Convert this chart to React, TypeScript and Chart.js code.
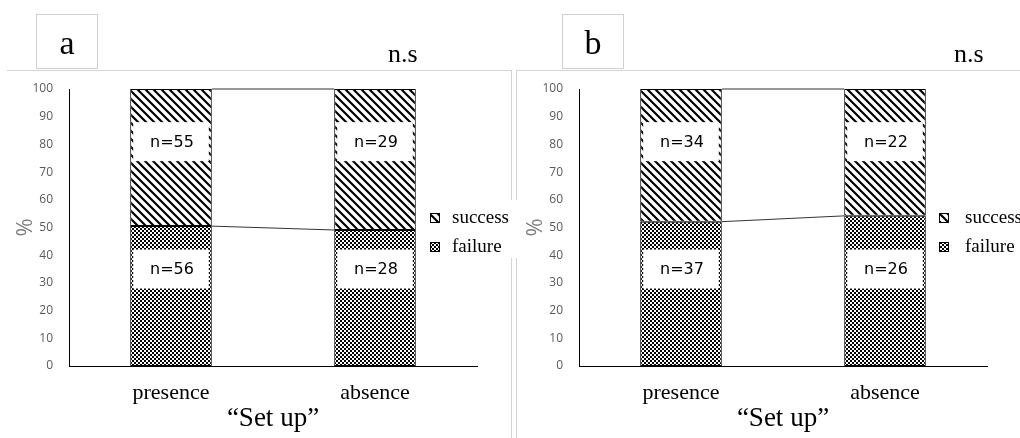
import React, { useEffect, useRef } from "react";
import { Chart, registerables } from "chart.js";

Chart.register(...registerables);

const categories = ["presence", "absence"];
const seriesNames = ["success", "failure"];
const xTitle = "\u201cSet up\u201d";
const yTitle = "%";

const failureA = [50.5, 49.1];
const successA = [49.5, 50.9];
const nFailureA = ["n=56", "n=28"];
const nSuccessA = ["n=55", "n=29"];

const failureB = [52.1, 54.2];
const successB = [47.9, 45.8];
const nFailureB = ["n=37", "n=26"];
const nSuccessB = ["n=34", "n=22"];

function makeHatch(): CanvasPattern {
  const c = document.createElement("canvas");
  c.width = 8;
  c.height = 8;
  const g = c.getContext("2d")!;
  g.fillStyle = "#fff";
  g.fillRect(0, 0, 8, 8);
  g.strokeStyle = "#000";
  g.lineWidth = 2.2;
  g.beginPath();
  g.moveTo(-2, -2);
  g.lineTo(10, 10);
  g.moveTo(-6, 2);
  g.lineTo(6, 14);
  g.moveTo(2, -6);
  g.lineTo(14, 6);
  g.stroke();
  return g.createPattern(c, "repeat")!;
}

function makeChecker(): CanvasPattern {
  const c = document.createElement("canvas");
  c.width = 4;
  c.height = 4;
  const g = c.getContext("2d")!;
  g.fillStyle = "#fff";
  g.fillRect(0, 0, 4, 4);
  g.fillStyle = "#000";
  g.fillRect(0, 0, 2, 2);
  g.fillRect(2, 2, 2, 2);
  return g.createPattern(c, "repeat")!;
}

type PanelProps = {
  letter: string;
  failure: number[];
  success: number[];
  nFailure: string[];
  nSuccess: string[];
  left: number;
  width: number;
  boxX: number;
  nsX: number;
  frameX: number;
  frameStart: number;
  legendX: number;
  legendTextX: number;
};

function Panel(p: PanelProps) {
  const ref = useRef<HTMLCanvasElement | null>(null);

  useEffect(() => {
    const canvas = ref.current!;
    const hatch = makeHatch();
    const checker = makeChecker();

    const decor = {
      id: "decor",
      afterDatasetsDraw(chart: any) {
        const ctx: CanvasRenderingContext2D = chart.ctx;
        const ys = chart.scales.y;
        const m0 = chart.getDatasetMeta(0);
        const m1 = chart.getDatasetMeta(1);
        ctx.save();
        ctx.strokeStyle = "#333";
        ctx.lineWidth = 1;
        for (let i = 0; i < categories.length - 1; i++) {
          const a = m0.data[i];
          const b = m0.data[i + 1];
          const x1 = a.x + a.width / 2;
          const x2 = b.x - b.width / 2;
          const levels = [
            [p.failure[i], p.failure[i + 1]],
            [p.failure[i] + p.success[i], p.failure[i + 1] + p.success[i + 1]],
          ];
          for (const [v1, v2] of levels) {
            ctx.beginPath();
            ctx.moveTo(x1, ys.getPixelForValue(v1));
            ctx.lineTo(x2, ys.getPixelForValue(v2));
            ctx.stroke();
          }
        }
        const sets: [any, string[], number][] = [
          [m0, p.nFailure, 35],
          [m1, p.nSuccess, 81],
        ];
        ctx.font = "16px 'DejaVu Sans'";
        ctx.textAlign = "center";
        ctx.textBaseline = "middle";
        for (const [meta, labels, pos] of sets) {
          meta.data.forEach((el: any, i: number) => {
            const cy = ys.getPixelForValue(pos);
            const x0 = el.x - el.width / 2 + 3;
            const w = el.width - 6;
            ctx.fillStyle = "#fff";
            ctx.fillRect(x0, cy - 19.5, w, 39);
            ctx.fillStyle = "#000";
            ctx.fillText(labels[i], el.x + 1, cy + 1);
          });
        }
        ctx.restore();
      },
      afterDraw(chart: any) {
        const ctx: CanvasRenderingContext2D = chart.ctx;
        ctx.save();
        ctx.strokeStyle = "#d4d4d4";
        ctx.lineWidth = 1;
        ctx.beginPath();
        ctx.moveTo(p.frameStart, 70.5);
        ctx.lineTo(p.width, 70.5);
        ctx.moveTo(p.frameX, 70);
        ctx.lineTo(p.frameX, 200);
        ctx.moveTo(p.frameX, 258);
        ctx.lineTo(p.frameX, 438);
        ctx.stroke();
        ctx.strokeStyle = "#d0d0d0";
        ctx.strokeRect(p.boxX + 0.5, 14.5, 61, 54);
        ctx.fillStyle = "#000";
        ctx.font = "34px 'Liberation Serif'";
        ctx.textAlign = "center";
        ctx.textBaseline = "alphabetic";
        ctx.fillText(p.letter, p.boxX + 31, 54);
        ctx.font = "26px 'Liberation Serif'";
        ctx.textAlign = "left";
        ctx.fillText("n.s", p.nsX, 62);
        const items: [string, CanvasPattern, number][] = [
          [seriesNames[0], hatch, 218],
          [seriesNames[1], checker, 247],
        ];
        ctx.font = "19px 'Liberation Serif'";
        ctx.textBaseline = "middle";
        for (const [name, pat, cy] of items) {
          ctx.fillStyle = pat;
          ctx.fillRect(p.legendX, cy - 5, 10, 10);
          ctx.strokeStyle = "#000";
          ctx.strokeRect(p.legendX + 0.5, cy - 4.5, 9, 9);
          ctx.fillStyle = "#000";
          ctx.fillText(name, p.legendTextX, cy);
        }
        ctx.restore();
      },
    };

    const chart = new Chart(canvas, {
      type: "bar",
      data: {
        labels: categories,
        datasets: [
          {
            label: seriesNames[1],
            data: p.failure,
            backgroundColor: checker,
            borderColor: "#000",
            borderWidth: 1,
            borderSkipped: false,
          },
          {
            label: seriesNames[0],
            data: p.success,
            backgroundColor: hatch,
            borderColor: "#000",
            borderWidth: 1,
            borderSkipped: false,
          },
        ],
      },
      options: {
        responsive: false,
        animation: false,
        devicePixelRatio: 1,
        layout: { padding: { top: 89, left: 0, right: p.width - 477, bottom: 0 } },
        datasets: { bar: { categoryPercentage: 1, barPercentage: 0.4 } },
        plugins: { legend: { display: false }, tooltip: { enabled: false } },
        scales: {
          x: {
            stacked: true,
            grid: { display: false, drawTicks: false, tickLength: 0 },
            border: { display: true, color: "#000", width: 1 },
            ticks: {
              color: "#000",
              padding: 14,
              font: { family: "'Liberation Serif'", size: 22, lineHeight: 1.2 },
            },
            title: {
              display: true,
              text: xTitle,
              color: "#000",
              padding: { top: 0, bottom: 3 },
              font: { family: "'Liberation Serif'", size: 27, lineHeight: 1.2 },
            },
            afterFit(scale: any) {
              scale.height = 72;
            },
          },
          y: {
            stacked: true,
            min: 0,
            max: 100,
            grid: { display: false, drawTicks: false, tickLength: 0 },
            border: { display: true, color: "#000", width: 1 },
            ticks: {
              stepSize: 10,
              color: "#595959",
              padding: 16,
              font: { family: "'Open Sans'", size: 12 },
            },
            title: {
              display: true,
              text: yTitle,
              color: "#7f7f7f",
              padding: { top: 13, bottom: 0 },
              font: { family: "'Open Sans'", size: 22, lineHeight: 1.2 },
            },
            afterFit(scale: any) {
              scale.width = 69;
            },
          },
        },
      },
      plugins: [decor],
    } as any);
    return () => chart.destroy();
  }, []);

  return (
    <canvas
      ref={ref}
      width={p.width}
      height={438}
      style={{ position: "absolute", left: p.left, top: 0, width: p.width, height: 438, display: "block" }}
    />
  );
}

export default function App() {
  return (
    <div
      style={{
        position: "fixed",
        left: 0,
        top: 0,
        width: 1020,
        height: 438,
        overflow: "hidden",
        background: "#fff",
      }}
    >
      <Panel
        letter="a"
        failure={failureA}
        success={successA}
        nFailure={nFailureA}
        nSuccess={nSuccessA}
        left={0}
        width={512}
        boxX={36}
        nsX={388}
        frameX={511.5}
        frameStart={7}
        legendX={430}
        legendTextX={452}
      />
      <Panel
        letter="b"
        failure={failureB}
        success={successB}
        nFailure={nFailureB}
        nSuccess={nSuccessB}
        left={510}
        width={510}
        boxX={52}
        nsX={444}
        frameX={6.5}
        frameStart={6}
        legendX={429}
        legendTextX={455}
      />
    </div>
  );
}
